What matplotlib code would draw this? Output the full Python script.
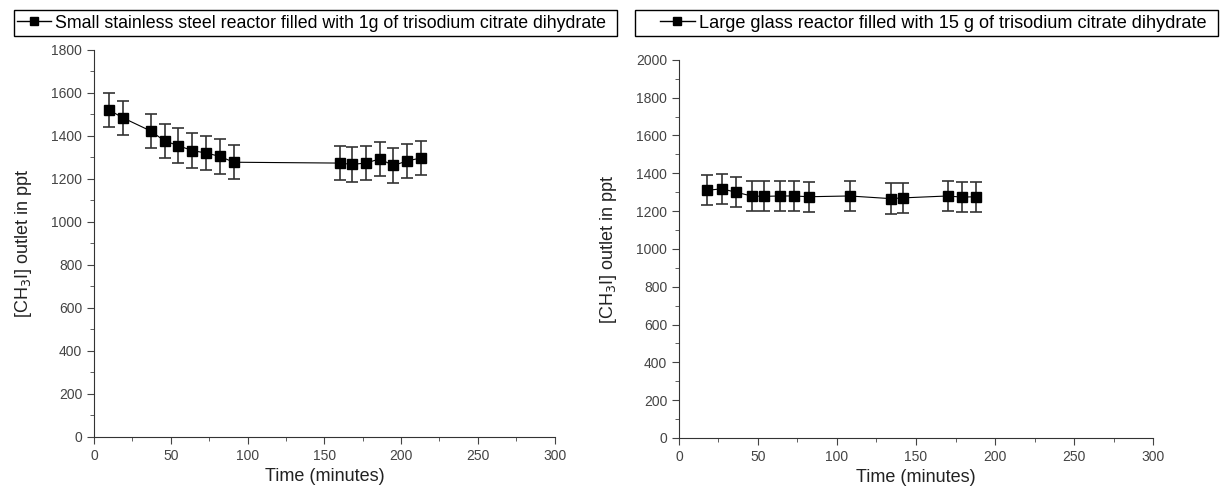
import numpy as np
import matplotlib.pyplot as plt
from matplotlib.ticker import MultipleLocator
from matplotlib.lines import Line2D
from matplotlib.patches import Rectangle

plt.rcParams['font.family'] = ['Liberation Sans', 'DejaVu Sans']

# small stainless steel reactor, 1 g
t_small = [10, 19, 37, 46, 55, 64, 73, 82, 91, 160, 168, 177, 186, 195, 204, 213]
c_small = [1520, 1484, 1423, 1377, 1355, 1332, 1321, 1305, 1278,
           1274, 1268, 1274, 1293, 1263, 1284, 1298]
e_small = [80, 80, 80, 80, 80, 80, 80, 80, 80, 80, 80, 80, 80, 80, 80, 80]

# large glass reactor, 15 g
t_large = [18, 27, 36, 46, 54, 64, 73, 82, 108, 134, 142, 170, 179, 188]
c_large = [1310, 1318, 1300, 1280, 1278, 1280, 1280, 1276, 1280, 1266, 1270, 1280, 1274, 1276]
e_large = [80, 80, 80, 80, 80, 80, 80, 80, 80, 80, 80, 80, 80, 80]

lab_small = 'Small stainless steel reactor filled with 1g of trisodium citrate dihydrate'
lab_large = 'Large glass reactor filled with 15 g of trisodium citrate dihydrate'

fig = plt.figure(figsize=(12.22, 4.93), dpi=100)
ax1 = fig.add_axes([0.0769, 0.1136, 0.377, 0.785])
ax2 = fig.add_axes([0.5556, 0.1116, 0.388, 0.767])

W, H = 1222, 493
# (box left, box right, handle start) in pixels
panels = [(ax1, t_small, c_small, e_small, lab_small, 1800, (14, 617, 17), 12.8),
          (ax2, t_large, c_large, e_large, lab_large, 2000, (635, 1218, 660), 13.1)]
for ax, t, c, e, lab, ymax, (x0, x1, xh), fs in panels:
    ax.errorbar(t, c, yerr=e, color='black', marker='s', ms=7, lw=0.8,
                ecolor='#333333', elinewidth=1.2, capsize=4, capthick=1.2)
    ax.set_xlim(0, 300)
    ax.set_ylim(0, ymax)
    ax.xaxis.set_major_locator(MultipleLocator(50))
    ax.xaxis.set_minor_locator(MultipleLocator(25))
    ax.yaxis.set_major_locator(MultipleLocator(200))
    ax.yaxis.set_minor_locator(MultipleLocator(100))
    ax.tick_params(which='major', length=5, labelsize=10, colors='#444444')
    ax.tick_params(which='minor', length=3, color='#444444')
    for s in ['top', 'right']:
        ax.spines[s].set_visible(False)
    for s in ['left', 'bottom']:
        ax.spines[s].set_color('#333333')
    ax.set_xlabel('Time (minutes)', fontsize=13, color='#222222')
    ax.set_ylabel('[CH$_3$I] outlet in ppt', fontsize=13, color='#222222', labelpad=12)

    fig.patches.append(Rectangle((x0 / W, 1 - 36 / H), (x1 - x0) / W, 26 / H,
                                 transform=fig.transFigure, fill=False,
                                 edgecolor='black', lw=1.0))
    h = Line2D([], [], color='black', marker='s', ms=6, lw=1.0)
    fig.legend(handles=[h], labels=[lab], loc='center left',
               bbox_to_anchor=(xh / W, 1 - 23 / H), fontsize=fs, frameon=False,
               handlelength=1.9, handletextpad=0.25, borderpad=0, borderaxespad=0)

fig.savefig('out.png', dpi=100)
